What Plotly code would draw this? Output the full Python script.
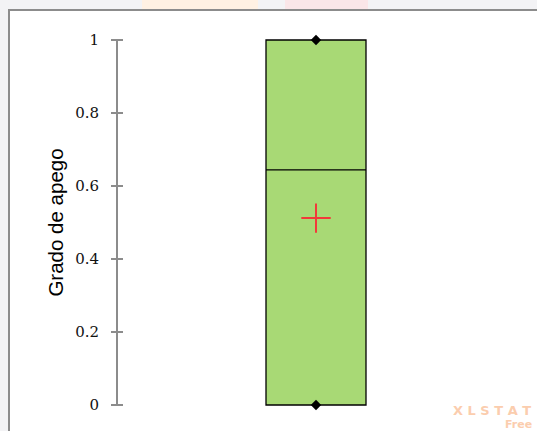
import plotly.graph_objects as go

# Summary statistics of "Grado de apego"
variable = "Grado de apego"
stat_min = [0.0]
stat_q1 = [0.0]
stat_median = [0.644]
stat_q3 = [1.0]
stat_max = [1.0]
stat_mean = [0.512]
tick_vals = [0, 0.2, 0.4, 0.6, 0.8, 1]
tick_text = ["0", "0.2", "0.4", "0.6", "0.8", "1"]

W, H = 537, 431
ML, MR, MT, MB = 117, 22, 22, 8
pad = 18 / 365  # axis padding so end markers are not clipped

fig = go.Figure()

fig.add_trace(go.Box(
    x=[0],
    q1=stat_q1, median=stat_median, q3=stat_q3,
    lowerfence=stat_min, upperfence=stat_max,
    width=0.5025,
    fillcolor="#a8d975",
    line=dict(color="#000000", width=1.3),
    whiskerwidth=0,
    boxpoints=False,
    hoverinfo="skip",
    showlegend=False,
))

# minimum / maximum markers
fig.add_trace(go.Scatter(
    x=[0, 0], y=[stat_min[0], stat_max[0]],
    mode="markers",
    marker=dict(symbol="diamond", size=8, color="#000000"),
    cliponaxis=False, showlegend=False, hoverinfo="skip",
))

# mean marker
fig.add_trace(go.Scatter(
    x=[0], y=stat_mean,
    mode="markers",
    marker=dict(symbol="cross-thin-open", size=21, color="#f23a3a",
                line=dict(color="#f23a3a", width=2)),
    cliponaxis=False, showlegend=False, hoverinfo="skip",
))

pw = W - ML - MR
ph = H - MT - MB


def px_x(p):
    return (p - ML) / pw


def px_y(p):
    return (H - MB - p) / ph


shapes = []
# chart frame: light gray surround and white chart area with gray edge
shapes.append(dict(type="rect", xref="paper", yref="paper", layer="below",
                   x0=px_x(10), x1=px_x(W + 5), y0=px_y(H + 5), y1=px_y(10.5),
                   fillcolor="#ffffff", line=dict(width=0)))
shapes.append(dict(type="line", xref="paper", yref="paper", layer="below",
                   x0=px_x(9), x1=px_x(9), y0=px_y(H + 5), y1=px_y(9),
                   line=dict(color="#8c8c8c", width=2)))
shapes.append(dict(type="line", xref="paper", yref="paper", layer="below",
                   x0=px_x(8), x1=px_x(W + 5), y0=px_y(10), y1=px_y(10),
                   line=dict(color="#8c8c8c", width=2)))
# faint header tints
shapes.append(dict(type="rect", xref="paper", yref="paper", layer="below",
                   x0=px_x(142), x1=px_x(258), y0=px_y(9), y1=px_y(-2),
                   fillcolor="#fff1e3", line=dict(width=0)))
shapes.append(dict(type="rect", xref="paper", yref="paper", layer="below",
                   x0=px_x(285), x1=px_x(368), y0=px_y(9), y1=px_y(-2),
                   fillcolor="#fae6e8", line=dict(width=0)))

# vertical axis line spanning the data range, with crossing ticks
shapes.append(dict(type="line", xref="paper", yref="y", layer="above",
                   x0=0, x1=0, y0=tick_vals[0], y1=tick_vals[-1],
                   line=dict(color="#8c8c8c", width=2)))
for v in tick_vals:
    shapes.append(dict(type="line", xref="paper", yref="y", layer="above",
                       xsizemode="pixel", xanchor=0, x0=-6, x1=6, y0=v, y1=v,
                       line=dict(color="#8c8c8c", width=2)))

fig.update_layout(
    width=W, height=H,
    margin=dict(l=ML, r=MR, t=MT, b=MB, autoexpand=False),
    paper_bgcolor="#f3f3f5",
    plot_bgcolor="#ffffff",
    shapes=shapes,
    xaxis=dict(range=[-1, 1], visible=False, fixedrange=True),
    yaxis=dict(
        range=[-pad, 1 + pad],
        tickvals=tick_vals, ticktext=tick_text,
        ticks="", showgrid=False, zeroline=False, showline=False,
        tickfont=dict(family="DejaVu Serif", size=15, color="#111111"),
        ticklabelstandoff=17,
        title=dict(text=variable, standoff=5,
                   font=dict(family="Liberation Sans, Arial", size=20.5, color="#000000")),
    ),
    annotations=[
        dict(text="<b>X L S T A T</b>", xref="paper", yref="paper",
             x=px_x(533), y=px_y(410), xanchor="right", yanchor="middle", showarrow=False,
             font=dict(family="DejaVu Sans", size=13, color="#fbcdae")),
        dict(text="<b>Free</b>", xref="paper", yref="paper", x=px_x(534), y=px_y(424),
             xanchor="right", yanchor="middle", showarrow=False,
             font=dict(family="DejaVu Sans", size=11, color="#fbcdae")),
    ],
)

fig.write_html("out.html")
